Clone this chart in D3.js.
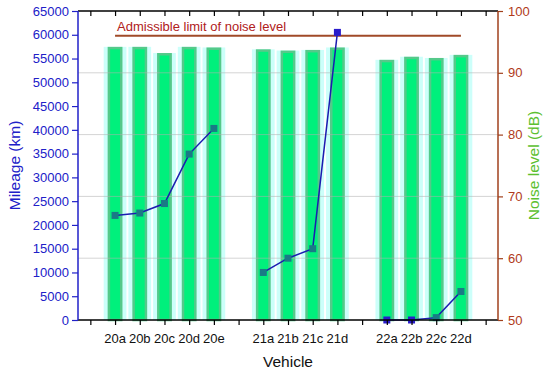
<!DOCTYPE html>
<html>
<head>
<meta charset="utf-8">
<script src="https://cdn.jsdelivr.net/npm/d3@7"></script>
<style>
  body { margin: 0; background: #fff; }
  svg { display: block; font-family: "Liberation Sans", Arial, sans-serif; }
</style>
</head>
<body>
<div id="chart"></div>
<script>
// data
const categories = ['20a', '20b', '20c', '20d', '20e', '21a', '21b', '21c', '21d', '22a', '22b', '22c', '22d'];
const groups     = [0, 0, 0, 0, 0, 1, 1, 1, 1, 2, 2, 2, 2];
const noise      = [94.2, 94.2, 93.2, 94.2, 94.1, 93.8, 93.6, 93.7, 94.1, 92.1, 92.6, 92.4, 92.9];
const mileage    = [22000, 22500, 24500, 34900, 40300, 10000, 13000, 15000, 60500, 0, 0, 500, 6000];
const noiseLimit = 96;
const mileageTicks = d3.range(0, 65001, 5000);
const noiseTicks = [50, 60, 70, 80, 90, 100];

const width = 550, height = 374;
const margin = { top: 11, right: 52, bottom: 54, left: 78 };
const plotW = width - margin.left - margin.right;
const plotH = height - margin.top - margin.bottom;

const svg = d3.select('#chart').append('svg')
  .attr('width', width)
  .attr('height', height);

const g = svg.append('g').attr('transform', `translate(${margin.left},${margin.top})`);

// category slot = index + group gap, centred on half units
const pos = categories.map((c, i) => i + groups[i] + 1.5);

const x = d3.scaleLinear().domain([0, 17]).range([0, plotW]);
const yL = d3.scaleLinear().domain([0, 65000]).range([plotH, 0]);
const yR = d3.scaleLinear().domain([50, 100]).range([plotH, 0]);

const unit = x(1) - x(0);

// bars (noise, right axis)
const bars = g.append('g');
bars.selectAll('rect.bg')
  .data(noise)
  .enter().append('rect')
  .attr('class', 'bg')
  .attr('x', (d, i) => x(pos[i]) - unit * 0.46)
  .attr('width', unit * 0.92)
  .attr('y', d => yR(d))
  .attr('height', d => plotH - yR(d))
  .style('fill', '#ccfffa');

bars.selectAll('rect.bar')
  .data(noise)
  .enter().append('rect')
  .attr('class', 'bar')
  .attr('x', (d, i) => x(pos[i]) - unit * 0.3 + 1.25)
  .attr('width', unit * 0.6 - 2.5)
  .attr('y', d => yR(d) + 1.25)
  .attr('height', d => plotH - yR(d) - 1.25)
  .style('fill', '#00f07c')
  .style('stroke', '#55c98a')
  .style('stroke-width', 2.5);

// grid lines from the right axis
g.append('g')
  .selectAll('line')
  .data(noiseTicks.slice(1, -1))
  .enter().append('line')
  .attr('x1', 0).attr('x2', plotW)
  .attr('y1', d => yR(d)).attr('y2', d => yR(d))
  .style('stroke', '#b0b0b0')
  .style('stroke-opacity', 0.55)
  .style('stroke-width', 1);

// admissible limit
g.append('line')
  .attr('x1', x(pos[0])).attr('x2', x(pos[pos.length - 1]))
  .attr('y1', yR(noiseLimit)).attr('y2', yR(noiseLimit))
  .style('stroke', '#a04a28')
  .style('stroke-width', 2);

g.append('text')
  .attr('x', x(pos[0]) + 2)
  .attr('y', yR(noiseLimit) - 5)
  .style('font-size', '13px')
  .style('fill', '#b02020')
  .text('Admissible limit of noise level');

// mileage lines, one per vehicle group
const line = d3.line()
  .x(d => x(pos[d]))
  .y(d => yL(mileage[d]));

const groupIds = d3.groups(d3.range(categories.length), i => groups[i]);
g.append('g')
  .selectAll('path')
  .data(groupIds)
  .enter().append('path')
  .attr('d', d => line(d[1]))
  .style('fill', 'none')
  .style('stroke', '#1c1cb0')
  .style('stroke-width', 1.5);

const blueMarkers = ['21d', '22a', '22b'];
const ms = 7;
g.append('g')
  .selectAll('rect')
  .data(mileage)
  .enter().append('rect')
  .attr('x', (d, i) => x(pos[i]) - ms / 2)
  .attr('y', d => yL(d) - ms / 2)
  .attr('width', ms).attr('height', ms)
  .style('fill', (d, i) => blueMarkers.includes(categories[i]) ? '#2a1ccc' : '#1a7a86');

// axes
const majorX = d3.range(0.5, 17, 1);
const minorX = d3.range(1, 17, 1);

const bottomAxis = g.append('g').attr('transform', `translate(0,${plotH})`);
bottomAxis.call(d3.axisBottom(x).tickValues(minorX).tickSize(3).tickFormat(''));
bottomAxis.call(d3.axisBottom(x).tickValues(majorX).tickSize(5).tickFormat(''));
bottomAxis.selectAll('.domain').attr('d', `M0,0H${plotW}`).style('stroke', '#000').style('stroke-width', 1.5);
bottomAxis.selectAll('.tick line').style('stroke', '#000').style('stroke-width', 1.2);

bottomAxis.selectAll('text.cat')
  .data(categories)
  .enter().append('text')
  .attr('class', 'cat')
  .attr('x', (d, i) => x(pos[i]))
  .attr('y', 23)
  .attr('text-anchor', 'middle')
  .style('font-size', '13px')
  .style('fill', '#111')
  .text(d => d);

const topAxis = g.append('g');
topAxis.call(d3.axisBottom(x).tickValues(minorX).tickSize(3).tickFormat(''));
topAxis.call(d3.axisBottom(x).tickValues(majorX).tickSize(5).tickFormat(''));
topAxis.selectAll('.domain').attr('d', `M0,0H${plotW}`).style('stroke', '#000').style('stroke-width', 1.5);
topAxis.selectAll('.tick line').style('stroke', '#000').style('stroke-width', 1.2);

const leftColor = '#2020c8';
const leftAxis = g.append('g');
leftAxis.call(d3.axisLeft(yL).tickValues(d3.range(2500, 65000, 5000)).tickSize(3).tickFormat(''));
leftAxis.call(d3.axisLeft(yL).tickValues(mileageTicks).tickSize(6).tickPadding(3).tickFormat(d3.format('d')));
leftAxis.selectAll('.domain').attr('d', `M0,0V${plotH}`).style('stroke', leftColor).style('stroke-width', 1.5);
leftAxis.selectAll('.tick line').style('stroke', leftColor).style('stroke-width', 1.2);
leftAxis.selectAll('.tick text').style('font-size', '13px').style('fill', leftColor)
  .style('font-family', '"Liberation Sans", Arial, sans-serif');

const rightColor = '#a0401c';
const rightAxis = g.append('g').attr('transform', `translate(${plotW},0)`);
rightAxis.call(d3.axisRight(yR).tickValues(d3.range(55, 100, 10)).tickSize(3).tickFormat(''));
rightAxis.call(d3.axisRight(yR).tickValues(noiseTicks).tickSize(5).tickPadding(5).tickFormat(d3.format('d')));
rightAxis.selectAll('.domain').attr('d', `M0,0V${plotH}`).style('stroke', rightColor).style('stroke-width', 1.5);
rightAxis.selectAll('.tick line').style('stroke', rightColor).style('stroke-width', 1.2);
rightAxis.selectAll('.tick text').style('font-size', '13px').style('fill', '#b03a1a')
  .style('font-family', '"Liberation Sans", Arial, sans-serif');

// axis titles
svg.append('text')
  .attr('x', margin.left + plotW / 2)
  .attr('y', 367)
  .attr('text-anchor', 'middle')
  .style('font-size', '15.5px')
  .style('fill', '#111')
  .text('Vehicle');

svg.append('text')
  .attr('transform', `translate(20,${margin.top + plotH / 2}) rotate(-90)`)
  .attr('text-anchor', 'middle')
  .style('font-size', '15.5px')
  .style('fill', '#2020c8')
  .text('Mileage (km)');

svg.append('text')
  .attr('transform', `translate(539,${margin.top + plotH / 2}) rotate(-90)`)
  .attr('text-anchor', 'middle')
  .style('font-size', '15.5px')
  .style('fill', '#5cc030')
  .text('Noise level (dB)');
</script>
</body>
</html>
